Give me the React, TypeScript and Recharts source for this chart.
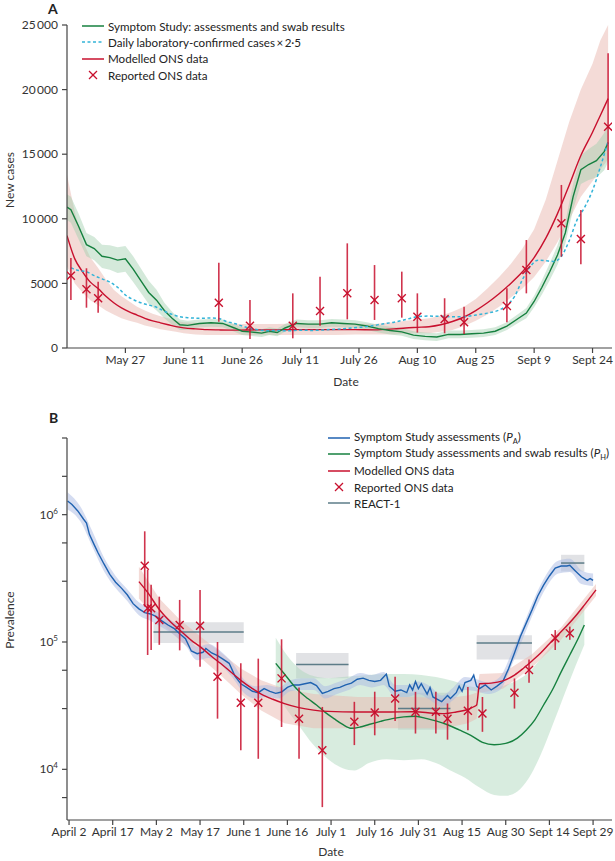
import {
  ComposedChart,
  Line,
  Area,
  Scatter,
  ErrorBar,
  XAxis,
  YAxis,
  ReferenceArea,
  ReferenceLine,
} from "recharts";

// day numbers count from April 1 (= day 0)

const FONT = "Lato, 'Open Sans', sans-serif";
const INK = "#333";
const RED = "#c8102e";
const GREEN = "#16803f";
const CYAN = "#33b4d8";
const BLUE = "#1f62b0";
const REACT_GREY = "#5d7c88";

// ---------- panel A: new cases ----------
const aTickDays = [56, 71, 86, 101, 116, 131, 146, 161, 176];
const aTickLabels = ["May 27", "June 11", "June 26", "July 11", "July 26", "Aug 10", "Aug 25", "Sept 9", "Sept 24"];
const aYTicks = [0, 5000, 10000, 15000, 20000, 25000];

// Symptom Study: assessments and swab results
const aSymDays = [41, 42, 44, 46, 48, 50, 52, 54, 56, 58, 60, 62, 64, 66, 68, 70, 72, 75, 78, 81, 84, 86, 88, 91, 93, 95, 97, 100, 103, 106, 109, 112, 115, 118, 121, 124, 127, 130, 133, 136, 139, 142, 145, 148, 151, 154, 157, 159, 161, 163, 165, 167, 169, 171, 173, 175, 177, 179, 180];
const aSymVal = [10900, 10700, 9400, 8000, 7700, 7100, 7000, 6800, 6900, 6100, 5200, 4300, 3700, 2900, 2300, 1800, 1750, 1900, 1950, 1900, 1550, 1300, 1250, 1150, 1300, 1200, 1550, 1900, 1850, 1850, 1950, 1900, 1850, 1700, 1500, 1350, 1250, 1000, 900, 850, 1050, 1050, 1100, 1150, 1300, 1700, 2300, 2700, 3600, 4700, 5900, 7200, 8900, 11700, 13800, 14200, 14500, 15200, 15900];
const aSymLo = [9900, 9700, 8400, 7100, 6800, 6200, 6050, 5800, 5900, 5100, 4250, 3400, 2900, 2300, 1800, 1400, 1400, 1600, 1650, 1600, 1250, 1000, 950, 850, 1000, 900, 1250, 1600, 1550, 1550, 1650, 1600, 1550, 1400, 1200, 1050, 950, 700, 600, 550, 750, 750, 800, 850, 1000, 1400, 1950, 2300, 3150, 4150, 5250, 6450, 8050, 10700, 12700, 13000, 13200, 13750, 14400];
const aSymHi = [11900, 11700, 10400, 8900, 8600, 8000, 7950, 7800, 7900, 7100, 6150, 5200, 4500, 3500, 2800, 2200, 2100, 2200, 2250, 2200, 1850, 1600, 1550, 1450, 1600, 1500, 1850, 2200, 2150, 2150, 2250, 2200, 2150, 2000, 1800, 1650, 1550, 1300, 1200, 1150, 1350, 1350, 1400, 1450, 1600, 2000, 2650, 3100, 4050, 5250, 6550, 7950, 9750, 12700, 14900, 15400, 15800, 16650, 17400];

// daily laboratory-confirmed cases x 2.5
const aLabDays = [42, 44, 46, 48, 50, 52, 54, 56, 58, 60, 62, 64, 66, 68, 70, 72, 75, 78, 80, 82, 84, 86, 88, 90, 92, 95, 98, 101, 104, 107, 110, 113, 116, 119, 122, 125, 128, 131, 134, 137, 140, 143, 146, 149, 152, 154, 156, 158, 160, 162, 164, 166, 168, 170, 172, 174, 176, 178, 180];
const aLabVal = [6200, 6000, 5900, 5600, 5350, 5100, 4700, 4100, 3750, 3500, 3330, 3150, 2850, 2600, 2420, 2350, 2300, 2320, 2280, 2050, 1900, 1700, 1520, 1420, 1340, 1350, 1330, 1380, 1360, 1400, 1450, 1520, 1600, 1700, 1860, 2000, 2200, 2420, 2470, 2450, 2420, 2420, 2550, 2700, 2940, 3300, 4000, 5300, 6300, 6800, 6750, 6700, 7100, 8300, 9900, 10900, 12200, 14000, 16000];

// modelled ONS data
const aModDays = [41, 43, 45, 47, 49, 51, 53, 55, 57, 59, 61, 63, 65, 67, 69, 71, 74, 77, 80, 85, 90, 95, 100, 105, 110, 115, 120, 125, 128, 131, 134, 137, 140, 143, 146, 149, 152, 155, 158, 161, 164, 167, 170, 173, 176, 178, 180];
const aModVal = [8700, 6900, 5900, 5100, 4600, 4000, 3500, 3100, 2800, 2550, 2300, 2100, 1950, 1800, 1650, 1560, 1480, 1420, 1400, 1380, 1400, 1400, 1420, 1420, 1420, 1420, 1400, 1480, 1550, 1600, 1650, 1800, 2050, 2400, 2900, 3500, 4200, 5000, 5900, 7000, 8500, 10400, 12600, 14900, 16700, 18000, 19300];
const aModLo = [6300, 5000, 4300, 3700, 3300, 2900, 2600, 2300, 2100, 1950, 1750, 1600, 1450, 1350, 1250, 1150, 1050, 1000, 1000, 1000, 1000, 1000, 1000, 1000, 1000, 1050, 1050, 1050, 1100, 1150, 1150, 1250, 1400, 1700, 2100, 2600, 3200, 3900, 4600, 5500, 6700, 8200, 9900, 11700, 12900, 13800, 14600];
const aModHi = [13400, 10500, 8300, 7000, 6200, 5300, 4500, 4000, 3600, 3200, 2900, 2650, 2450, 2300, 2100, 2000, 1950, 1900, 1900, 1850, 1850, 1850, 1900, 1900, 1900, 1900, 1850, 2000, 2100, 2200, 2300, 2500, 2800, 3200, 3800, 4600, 5500, 6500, 7700, 9200, 11500, 14500, 17500, 20000, 22000, 23800, 25000];

// reported ONS data
const aOnsDays = [42, 46, 49, 80, 88, 99, 106, 113, 120, 127, 131, 138, 143, 154, 159, 168, 173, 180];
const aOnsVal = [5600, 4540, 3850, 3510, 1730, 1730, 2860, 4230, 3720, 3850, 2420, 2250, 1990, 3250, 6040, 9650, 8440, 17130];
const aOnsLo = [3720, 3120, 2730, 2040, 700, 750, 1730, 2220, 2170, 2350, 1190, 1140, 1080, 1990, 4230, 7070, 6480, 13780];
const aOnsHi = [6960, 6170, 5130, 6600, 3720, 4230, 5520, 8100, 6420, 5910, 4230, 3850, 3200, 4620, 8360, 12620, 10680, 22810];

// ---------- panel B: prevalence ----------
const bTickDays = [1, 16, 31, 46, 61, 76, 91, 106, 121, 136, 151, 166, 181];
const bTickLabels = ["April 2", "April 17", "May 2", "May 17", "June 1", "June 16", "July 1", "July 16", "July 31", "Aug 15", "Aug 30", "Sept 14", "Sept 29"];

// Symptom Study assessments (PA)
const bSymDays = [0.5, 2, 4, 6, 7, 8, 9.5, 11, 13, 15, 17, 19, 21, 23, 25, 27, 29, 31, 33, 35, 37, 39, 41, 43, 45, 47, 48, 50, 52, 54, 56, 58, 60, 62, 64, 66, 68, 70, 72, 74, 76, 78, 80, 82, 84, 86, 88, 90, 92, 94, 96, 98, 100, 102, 104, 106, 108, 110, 111, 113, 115, 117, 118, 119, 120, 121, 122, 124, 125, 126, 128, 129, 131, 132, 134, 135, 136, 137, 139, 140, 141, 142, 144, 146, 148, 150, 152, 154, 156, 158, 160, 162, 164, 166, 168, 170, 172, 173, 175, 177, 179, 180, 181];
const bSymVal = [1.28e6, 1.2e6, 1.07e6, 9.2e5, 8.6e5, 7.0e5, 5.9e5, 5.0e5, 4.1e5, 3.4e5, 2.95e5, 2.65e5, 2.35e5, 2.0e5, 1.82e5, 1.7e5, 1.66e5, 1.58e5, 1.46e5, 1.36e5, 1.28e5, 1.16e5, 1.06e5, 8.5e4, 8.1e4, 8.3e4, 8.9e4, 8.2e4, 7.8e4, 7.3e4, 6.8e4, 5.4e4, 4.7e4, 4.4e4, 4.1e4, 4.0e4, 4.3e4, 4.1e4, 3.95e4, 4.05e4, 4.4e4, 4.6e4, 4.6e4, 4.7e4, 4.8e4, 4.55e4, 3.95e4, 4.1e4, 4.3e4, 4.4e4, 4.6e4, 4.75e4, 5.1e4, 5.2e4, 5.0e4, 4.9e4, 5.0e4, 5.6e4, 4.5e4, 4.1e4, 4.2e4, 4.0e4, 4.6e4, 4.2e4, 4.9e4, 4.3e4, 4.7e4, 3.9e4, 4.4e4, 3.7e4, 3.5e4, 3.4e4, 3.8e4, 3.6e4, 4.0e4, 4.5e4, 4.1e4, 4.8e4, 5.0e4, 5.5e4, 4.5e4, 4.3e4, 4.6e4, 4.2e4, 4.5e4, 4.9e4, 6.2e4, 8.2e4, 1.1e5, 1.4e5, 1.78e5, 2.3e5, 2.8e5, 3.3e5, 3.8e5, 3.95e5, 3.95e5, 4.0e5, 3.6e5, 3.25e5, 3.05e5, 3.15e5, 3.05e5];
const bSymBandDays = [0.5, 5, 9, 13, 17, 21, 25, 29, 33, 37, 41, 45, 49, 53, 57, 61, 65, 69, 73, 77, 81, 85, 89, 93, 97, 101, 105, 109, 113, 117, 121, 125, 129, 133, 137, 141, 145, 149, 153, 157, 161, 165, 169, 173, 177, 181];
const bSymLo = [1.1e6, 8.8e5, 5.6e5, 3.6e5, 2.65e5, 2.1e5, 1.62e5, 1.47e5, 1.3e5, 1.14e5, 9.4e4, 7.2e4, 7.5e4, 6.7e4, 5.3e4, 4.0e4, 3.6e4, 3.7e4, 3.6e4, 4.1e4, 4.2e4, 4.2e4, 3.6e4, 3.9e4, 4.2e4, 4.6e4, 4.4e4, 4.6e4, 3.7e4, 3.7e4, 3.9e4, 3.5e4, 3.1e4, 3.5e4, 4.2e4, 4.1e4, 3.9e4, 4.2e4, 6.5e4, 1.08e5, 1.78e5, 2.7e5, 3.45e5, 3.55e5, 2.85e5, 2.75e5];
const bSymHi = [1.5e6, 1.15e6, 7.4e5, 4.6e5, 3.3e5, 2.6e5, 2.05e5, 1.85e5, 1.63e5, 1.43e5, 1.19e5, 9.2e4, 9.6e4, 8.5e4, 6.9e4, 5.1e4, 4.5e4, 4.6e4, 4.4e4, 5.0e4, 5.2e4, 5.2e4, 4.5e4, 4.8e4, 5.2e4, 5.7e4, 5.5e4, 5.8e4, 4.6e4, 4.6e4, 4.9e4, 4.5e4, 3.8e4, 4.4e4, 5.3e4, 5.1e4, 4.8e4, 5.3e4, 8.2e4, 1.35e5, 2.25e5, 3.4e5, 4.35e5, 4.5e5, 3.65e5, 3.45e5];

// Symptom Study assessments and swab results (PH)
const bSwabDays = [72, 75, 78, 80, 83, 86, 89, 92, 95, 98, 101, 104, 108, 112, 116, 120, 124, 127, 131, 135, 139, 143, 147, 151, 155, 158, 161, 164, 167, 170, 173, 176, 178];
const bSwabVal = [6.8e4, 5.6e4, 4.6e4, 4.1e4, 3.6e4, 3.2e4, 2.8e4, 2.5e4, 2.25e4, 2.1e4, 2.15e4, 2.25e4, 2.38e4, 2.5e4, 2.58e4, 2.61e4, 2.5e4, 2.4e4, 2.24e4, 2.04e4, 1.85e4, 1.63e4, 1.56e4, 1.6e4, 1.76e4, 2.03e4, 2.45e4, 3.2e4, 4.2e4, 5.8e4, 7.9e4, 1.08e5, 1.36e5];
const bSwabBandDays = [72, 76, 80, 85, 90, 95, 99, 104, 110, 116, 122, 127, 132, 137, 142, 147, 151, 155, 159, 163, 167, 171, 175, 178];
const bSwabLo = [4.0e4, 2.9e4, 2.2e4, 1.55e4, 1.2e4, 1.02e4, 9.8e3, 1.12e4, 1.2e4, 1.18e4, 1.2e4, 1.12e4, 9.8e3, 8.6e3, 7.2e3, 6.3e3, 6.2e3, 6.7e3, 8.6e3, 1.3e4, 2.2e4, 3.8e4, 6.5e4, 9.5e4];
const bSwabHi = [1.08e5, 7.8e4, 6.2e4, 5.4e4, 5.2e4, 5.3e4, 5.4e4, 5.5e4, 5.6e4, 5.6e4, 5.5e4, 5.3e4, 5.0e4, 4.6e4, 4.4e4, 4.4e4, 4.6e4, 5.0e4, 5.8e4, 7.4e4, 9.6e4, 1.3e5, 1.65e5, 1.95e5];

// modelled ONS data
const bModDays = [25, 28, 32, 36, 39, 43, 46, 50, 53, 57, 60, 64, 67, 71, 75, 80, 85, 90, 100, 110, 120, 126, 130, 134, 138, 140, 141, 142, 146, 150, 154, 157, 160, 163, 166, 169, 172, 175, 178, 182];
const bModVal = [2.98e5, 2.45e5, 1.8e5, 1.43e5, 1.24e5, 1.03e5, 9.2e4, 7.7e4, 6.8e4, 5.7e4, 5.0e4, 4.3e4, 3.9e4, 3.55e4, 3.28e4, 3.05e4, 2.92e4, 2.85e4, 2.82e4, 2.82e4, 2.83e4, 2.76e4, 2.74e4, 2.82e4, 2.95e4, 3.1e4, 3.2e4, 4.7e4, 4.75e4, 4.95e4, 5.5e4, 6.2e4, 7.1e4, 8.2e4, 9.7e4, 1.14e5, 1.34e5, 1.6e5, 1.95e5, 2.57e5];
const bModBandDays = [25, 32, 39, 46, 53, 60, 67, 75, 85, 100, 120, 130, 138, 141, 142, 150, 160, 170, 182];
const bModLo = [2.2e5, 1.45e5, 1.03e5, 7.6e4, 5.5e4, 3.9e4, 2.9e4, 2.3e4, 2.1e4, 2.1e4, 2.1e4, 2.1e4, 2.3e4, 2.5e4, 4.0e4, 4.3e4, 6.3e4, 1.04e5, 2.3e5];
const bModHi = [3.9e5, 2.2e5, 1.5e5, 1.11e5, 8.3e4, 6.2e4, 5.0e4, 4.3e4, 3.9e4, 3.7e4, 3.7e4, 3.6e4, 3.8e4, 4.0e4, 5.6e4, 5.7e4, 8.0e4, 1.3e5, 2.85e5];

// reported ONS data
const bOnsDays = [27, 28, 29.2, 32, 39, 46, 52, 60, 66, 74, 80, 88, 99, 106, 113, 120, 127, 131, 138, 143, 154, 159, 168, 173];
const bOnsVal = [3.97e5, 1.84e5, 1.84e5, 1.49e5, 1.36e5, 1.34e5, 5.33e4, 3.33e4, 3.33e4, 5.18e4, 2.5e4, 1.41e4, 2.36e4, 2.79e4, 3.6e4, 2.83e4, 2.83e4, 2.5e4, 2.88e4, 2.74e4, 3.99e4, 6.03e4, 1.07e5, 1.17e5];
const bOnsLo = [1.9e5, 7.9e4, 8.65e4, 9.5e4, 8.6e4, 6.4e4, 2.5e4, 1.41e4, 1.21e4, 2.15e4, 1.21e4, 5.05e3, 1.55e4, 1.85e4, 2.4e4, 1.91e4, 1.91e4, 1.71e4, 2.03e4, 1.97e4, 3.0e4, 4.79e4, 8.65e4, 1.04e5];
const bOnsHi = [7.4e5, 3.69e5, 2.81e5, 2.27e5, 2.14e5, 2.56e5, 1.0e5, 6.8e4, 7.4e4, 1.05e5, 4.4e4, 3.09e4, 3.39e4, 4.07e4, 5.33e4, 4.06e4, 4.06e4, 3.29e4, 4.44e4, 3.7e4, 5.17e4, 7.3e4, 1.24e5, 1.32e5];

// REACT-1 rounds
const reactStart = [30, 79, 114, 141, 170];
const reactEnd = [61, 97, 132, 160, 178];
const reactVal = [1.2e5, 6.67e4, 3.0e4, 9.8e4, 4.17e5];
const reactLo = [9.8e4, 5.2e4, 2.05e4, 7.3e4, 3.58e5];
const reactHi = [1.43e5, 8.2e4, 4.0e4, 1.13e5, 4.84e5];

// ---------- helpers ----------
const lineData = (days: number[], vals: number[]) => days.map((t, i) => ({ t, v: vals[i] }));
const bandData = (days: number[], lo: number[], hi: number[]) =>
  days.map((t, i) => ({ t, r: [lo[i], hi[i]] }));
const errData = (days: number[], vals: number[], lo: number[], hi: number[]) =>
  days.map((t, i) => ({ t, v: vals[i], e: [vals[i] - lo[i], hi[i] - vals[i]] }));

const logTicks: number[] = [];
[1e3, 1e4, 1e5, 1e6].forEach((d) => {
  for (let m = 1; m <= 9; m++) {
    const v = m * d;
    if (v >= 4000 && v <= 4e6) logTicks.push(v);
  }
});

const fmtThousands = (v: number) =>
  v >= 10000 ? `${Math.floor(v / 1000)}\u2009${String(v % 1000).padStart(3, "0")}` : String(v);

const Cross = (props: any) => {
  const { cx, cy } = props;
  const s = 4;
  return (
    <g stroke={RED} strokeWidth={1.4}>
      <line x1={cx - s} y1={cy - s} x2={cx + s} y2={cy + s} />
      <line x1={cx - s} y1={cy + s} x2={cx + s} y2={cy - s} />
    </g>
  );
};

const LogTick = (props: any) => {
  const { x, y, payload } = props;
  const e = Math.log10(payload.value);
  if (Math.abs(e - Math.round(e)) > 1e-6) return <g />;
  return (
    <text x={x} y={y} dy={4} textAnchor="end" fontSize={12} fill={INK} fontFamily={FONT}>
      10
      <tspan dy={-5} fontSize={8}>
        {Math.round(e)}
      </tspan>
    </text>
  );
};

const yTitle = (text: string, cy: number) => () =>
  (
    <text
      x={14}
      y={cy}
      transform={`rotate(-90 14 ${cy})`}
      textAnchor="middle"
      fontSize={12}
      fill={INK}
      fontFamily={FONT}
    >
      {text}
    </text>
  );

const xTitle = (cx: number, y: number) => () =>
  (
    <text x={cx} y={y} textAnchor="middle" fontSize={12} fill={INK} fontFamily={FONT}>
      Date
    </text>
  );

const axisProps = {
  stroke: "#444",
  strokeWidth: 1.2,
  tickSize: 5,
  tick: { fontSize: 12, fill: INK, fontFamily: FONT },
};

const LineIcon = ({ color, dash }: { color: string; dash?: string }) => (
  <svg width={22} height={10} style={{ marginRight: 4 }}>
    <line x1={0} x2={22} y1={5} y2={5} stroke={color} strokeWidth={1.5} strokeDasharray={dash} />
  </svg>
);
const CrossIcon = () => (
  <svg width={22} height={10} style={{ marginRight: 4 }}>
    <g stroke={RED} strokeWidth={1.3}>
      <line x1={7} y1={1} x2={15} y2={9} />
      <line x1={7} y1={9} x2={15} y2={1} />
    </g>
  </svg>
);

const LegendBox = ({ left, top, rows }: { left: number; top: number; rows: [any, any][] }) => (
  <div style={{ position: "absolute", left, top, fontFamily: FONT, fontSize: 11.6, color: "#222" }}>
    {rows.map(([icon, label], i) => (
      <div key={i} style={{ display: "flex", alignItems: "center", height: 16.3, whiteSpace: "nowrap" }}>
        {icon}
        <span>{label}</span>
      </div>
    ))}
  </div>
);

export default function App() {
  return (
    <div style={{ position: "absolute", left: 0, top: 0, width: 615, height: 861, background: "#fff" }}>
      <div style={{ position: "absolute", left: 48, top: 0, fontFamily: FONT, fontWeight: 700, fontSize: 14, color: "#222" }}>A</div>
      <div style={{ position: "absolute", left: 49, top: 409, fontFamily: FONT, fontWeight: 700, fontSize: 14, color: "#222" }}>B</div>

      <div style={{ position: "absolute", left: 0, top: 0 }}>
        <ComposedChart width={615} height={395} margin={{ top: 25, right: 3, left: 0, bottom: 0 }}>
          <XAxis
            type="number"
            dataKey="t"
            domain={[41, 181]}
            ticks={aTickDays}
            tickFormatter={(t: number) => aTickLabels[aTickDays.indexOf(t)]}
            allowDataOverflow
            height={47}
            label={xTitle(346, 386)}
            {...axisProps}
          />
          <YAxis
            type="number"
            domain={[0, 25000]}
            ticks={aYTicks}
            tickFormatter={fmtThousands}
            allowDataOverflow
            width={67}
            tickMargin={4}
            label={yTitle("New cases", 180)}
            {...axisProps}
          />
          <Area data={bandData(aModDays, aModLo, aModHi)} dataKey="r" stroke="none" fill="#eab8b0" fillOpacity={0.5} isAnimationActive={false} />
          <Area data={bandData(aSymDays, aSymLo, aSymHi)} dataKey="r" stroke="none" fill="#9fcfae" fillOpacity={0.45} isAnimationActive={false} />
          <Line data={lineData(aModDays, aModVal)} dataKey="v" stroke={RED} strokeWidth={1.4} dot={false} type="monotone" isAnimationActive={false} />
          <Line data={lineData(aSymDays, aSymVal)} dataKey="v" stroke={GREEN} strokeWidth={1.4} dot={false} type="linear" isAnimationActive={false} />
          <Line data={lineData(aLabDays, aLabVal)} dataKey="v" stroke={CYAN} strokeWidth={1.5} strokeDasharray="3 2.5" dot={false} type="monotone" isAnimationActive={false} />
          <Scatter data={errData(aOnsDays, aOnsVal, aOnsLo, aOnsHi)} dataKey="v" shape={Cross} isAnimationActive={false}>
            <ErrorBar dataKey="e" direction="y" width={0} stroke={RED} strokeWidth={1.6} strokeOpacity={0.85} />
          </Scatter>
        </ComposedChart>
      </div>

      <div style={{ position: "absolute", left: 0, top: 400 }}>
        <ComposedChart width={615} height={461} margin={{ top: 38, right: 3, left: 0, bottom: 0 }}>
          <XAxis
            type="number"
            dataKey="t"
            domain={[0.3, 187.5]}
            ticks={bTickDays}
            tickFormatter={(t: number) => bTickLabels[bTickDays.indexOf(t)]}
            allowDataOverflow
            height={41}
            label={xTitle(331, 456)}
            {...axisProps}
          />
          <YAxis
            type="number"
            scale="log"
            domain={[4000, 4e6]}
            ticks={logTicks}
            tick={LogTick}
            allowDataOverflow
            width={67}
            tickMargin={4}
            stroke="#444"
            strokeWidth={1.2}
            tickSize={5}
            label={yTitle("Prevalence", 220)}
          />
          {reactStart.map((s, i) => (
            <ReferenceArea key={`ra${i}`} x1={s} x2={reactEnd[i]} y1={reactLo[i]} y2={reactHi[i]} fill="#c9cbcf" fillOpacity={0.55} stroke="none" />
          ))}
          <Area data={bandData(bSwabBandDays, bSwabLo, bSwabHi)} dataKey="r" stroke="none" fill="#a9d5b8" fillOpacity={0.45} type="monotone" isAnimationActive={false} />
          <Area data={bandData(bModBandDays, bModLo, bModHi)} dataKey="r" stroke="none" fill="#eab8b0" fillOpacity={0.5} type="linear" isAnimationActive={false} />
          <Area data={bandData(bSymBandDays, bSymLo, bSymHi)} dataKey="r" stroke="none" fill="#a9b9e3" fillOpacity={0.5} type="monotone" isAnimationActive={false} />
          {reactStart.map((s, i) => (
            <ReferenceLine key={`rl${i}`} segment={[{ x: s, y: reactVal[i] }, { x: reactEnd[i], y: reactVal[i] }]} stroke={REACT_GREY} strokeWidth={1.5} />
          ))}
          <Line data={lineData(bSymDays, bSymVal)} dataKey="v" stroke={BLUE} strokeWidth={1.4} dot={false} type="linear" isAnimationActive={false} />
          <Line data={lineData(bSwabDays, bSwabVal)} dataKey="v" stroke={GREEN} strokeWidth={1.4} dot={false} type="monotone" isAnimationActive={false} />
          <Line data={lineData(bModDays, bModVal)} dataKey="v" stroke={RED} strokeWidth={1.4} dot={false} type="monotone" isAnimationActive={false} />
          <Scatter data={errData(bOnsDays, bOnsVal, bOnsLo, bOnsHi)} dataKey="v" shape={Cross} isAnimationActive={false}>
            <ErrorBar dataKey="e" direction="y" width={0} stroke={RED} strokeWidth={1.6} strokeOpacity={0.85} />
          </Scatter>
        </ComposedChart>
      </div>

      <LegendBox
        left={82}
        top={18}
        rows={[
          [<LineIcon color={GREEN} />, "Symptom Study: assessments and swab results"],
          [<LineIcon color={CYAN} dash="3 2.5" />, "Daily laboratory-confirmed cases\u2009\u00d7\u20092\u00b75"],
          [<LineIcon color={RED} />, "Modelled ONS data"],
          [<CrossIcon />, "Reported ONS data"],
        ]}
      />
      <LegendBox
        left={328}
        top={430}
        rows={[
          [<LineIcon color={BLUE} />, <span>Symptom Study assessments (<i>P</i><sub style={{ fontSize: 7.5 }}>A</sub>)</span>],
          [<LineIcon color={GREEN} />, <span>Symptom Study assessments and swab results (<i>P</i><sub style={{ fontSize: 7.5 }}>H</sub>)</span>],
          [<LineIcon color={RED} />, "Modelled ONS data"],
          [<CrossIcon />, "Reported ONS data"],
          [<LineIcon color={REACT_GREY} />, "REACT-1"],
        ]}
      />
    </div>
  );
}
